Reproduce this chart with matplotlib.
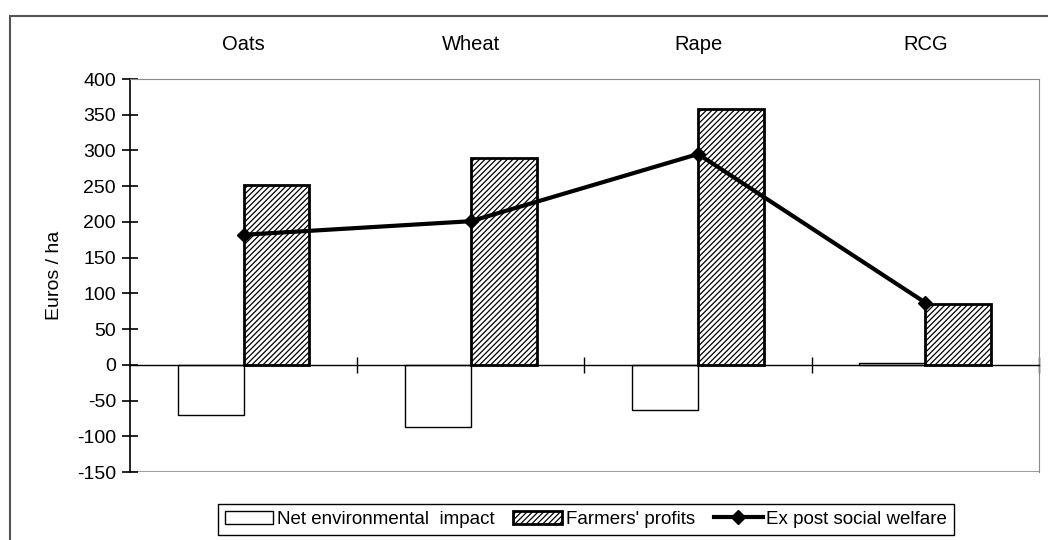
import matplotlib.pyplot as plt
import numpy as np
from matplotlib.patches import Rectangle

plt.rcParams['font.family'] = ['Liberation Sans', 'DejaVu Sans']
plt.rcParams['hatch.linewidth'] = 0.9
plt.rcParams['axes.unicode_minus'] = False

crops = ['Oats', 'Wheat', 'Rape', 'RCG']
net_env_impact = [-70, -87, -63, 3]
farmers_profits = [252, 290, 358, 85]
social_welfare = [182, 201, 295, 87]
yticks = [-150, -100, -50, 0, 50, 100, 150, 200, 250, 300, 350, 400]

fig = plt.figure(figsize=(10.48, 5.40), dpi=100)
ax = fig.add_axes([0.124, 0.1259, 0.8674, 0.7278])

x = np.arange(len(crops))
w = 0.29
b1 = ax.bar(x - w / 2, net_env_impact, w, color='white', edgecolor='black',
            linewidth=1.0, label='Net environmental  impact', zorder=2)
b2 = ax.bar(x + w / 2, farmers_profits, w, color='white', edgecolor='black',
            linewidth=2.0, hatch='//////', label="Farmers' profits", zorder=2)
l1, = ax.plot(x, social_welfare, color='black', linewidth=3, marker='D',
              markersize=7, label='Ex post social welfare', zorder=3)

ax.set_xlim(-0.5, len(crops) - 0.5)
ax.set_ylim(-150, 400)
ax.set_yticks(yticks)
ax.tick_params(axis='y', direction='inout', length=12, width=1.2,
               labelsize=14, pad=4)
ax.set_ylabel('Euros / ha', fontsize=14, labelpad=10)

# category axis runs along zero, boundaries marked with cross ticks
ax.spines['bottom'].set_position(('data', 0))
ax.spines['bottom'].set_linewidth(1.0)
ax.set_xticks(x + 0.5)
ax.set_xticklabels([])
ax.tick_params(axis='x', direction='inout', length=12, width=1.0)

ax.spines['left'].set_linewidth(1.2)
for side in ('top', 'right'):
    ax.spines[side].set_color('#8a8a8a')
ax.axhline(-150, color='#8a8a8a', linewidth=1.2, zorder=1)

top = ax.secondary_xaxis('top')
top.set_xticks(x)
top.set_xticklabels(crops, fontsize=14.5)
top.tick_params(length=0, pad=18)
top.spines['top'].set_visible(False)

fig.legend(handles=[b1, b2, l1], loc='center',
           bbox_to_anchor=(0.559, 0.038), ncol=3,
           fontsize=13.5, frameon=True, fancybox=False, edgecolor='black',
           framealpha=1, handlelength=2.6, handleheight=0.7,
           handletextpad=0.2, columnspacing=1.0, borderpad=0.35)

# outer chart frame
fig.patches.append(Rectangle((10 / 1048, -0.1), 1.2, 1.1 - 16 / 540,
                             transform=fig.transFigure, fill=False,
                             edgecolor='#555555', linewidth=1.5))

fig.savefig('out.png', dpi=100)
